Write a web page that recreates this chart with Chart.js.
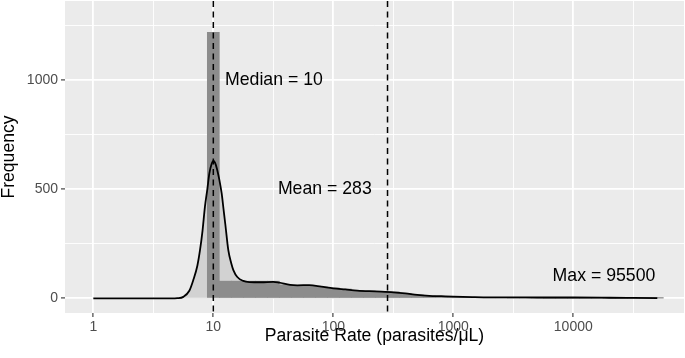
<!DOCTYPE html>
<html>
<head>
<meta charset="utf-8">
<script src="https://cdn.jsdelivr.net/npm/chart.js@4.4.0/dist/chart.umd.min.js"></script>
<style>
  html, body { margin: 0; padding: 0; background: #ffffff; }
  #wrap { width: 685px; height: 358px; }
</style>
</head>
<body>
<div id="wrap"><canvas id="myChart" width="685" height="358"></canvas></div>
<script>
// histogram of log10(parasite rate), bin width 0.1
const binCentersLog = [1.0, 1.1, 1.2, 1.3, 1.4, 1.5, 1.6, 1.7, 1.8, 1.9, 2.0, 2.1, 2.2, 2.3, 2.4, 2.5,
    2.6, 2.7, 2.8, 2.9, 3.0, 3.1, 3.2, 3.3, 3.4, 3.5, 3.6, 3.7, 3.8, 3.9, 4.0, 4.1, 4.2, 4.3, 4.4, 4.5, 4.6, 4.7];
const binCounts = [1220, 79, 79, 79, 79, 79, 62, 60, 58, 53, 48, 43, 36, 34, 32, 30,
    22, 16, 11, 8, 6, 5, 4, 3, 3, 2, 2, 2, 1, 1, 1, 1, 1, 1, 1, 1, 1, 1];

// density curve (scaled to counts)
const densityLog = [0, 0.5, 0.65, 0.7, 0.75, 0.8, 0.833, 0.867, 0.889, 0.91, 0.93, 0.95, 0.967, 0.985, 1.0,
    1.015, 1.03, 1.05, 1.07, 1.085, 1.1, 1.125, 1.15, 1.167, 1.2, 1.25, 1.3, 1.4, 1.5, 1.55, 1.64, 1.7, 1.8,
    1.9, 2.0, 2.1, 2.2, 2.3, 2.4, 2.5, 2.6, 2.7, 2.8, 2.9, 3.0, 3.16, 3.3, 3.5, 3.7, 4.0, 4.3, 4.5, 4.7];
const densityCounts = [0, 0, 0, 1, 7, 35, 84, 150, 221, 310, 420, 500, 573, 615, 631,
    622, 595, 545, 480, 410, 340, 221, 160, 130, 98, 80, 75, 74, 76, 72, 62, 60, 61,
    54, 46, 41, 36, 33, 31, 28, 23, 16, 12, 10, 8, 6, 5, 5, 4, 4, 3, 2, 1];

// axes
const xTickLog = [0, 1, 2, 3, 4];
const xTickLabels = ['1', '10', '100', '1000', '10000'];
const xGridLog = [0, 0.5, 1, 1.5, 2, 2.5, 3, 3.5, 4, 4.5];
const yTickValues = [0, 500, 1000];
const yGridValues = [0, 250, 500, 750, 1000, 1250];

// summary lines and labels
const statNames = ['Median', 'Mean', 'Max'];
const statValues = [10, 283, 95500];
const statLabelX = [32, 85, 18000];   // label anchor, parasites/uL
const statLabelY = [1000, 500, 100];  // label anchor, frequency

const FONT = '"Liberation Sans", Arial, Helvetica, sans-serif';

const bars = binCentersLog.map((v, i) => ({ x: v, y: binCounts[i] }));
const density = densityLog.map((v, i) => ({ x: v, y: densityCounts[i] }));

function isMajor(c, list) {
    return !!(c && c.tick && list.includes(c.tick.value));
}

const panelPlugin = {
    id: 'panel',
    beforeDraw(chart) {
        const { ctx, chartArea: a } = chart;
        ctx.save();
        ctx.fillStyle = '#ebebeb';
        ctx.fillRect(a.left, a.top, a.right - a.left, a.bottom - a.top);
        ctx.restore();
    },
    afterDatasetsDraw(chart) {
        const { ctx, chartArea: a, scales: { x, y } } = chart;
        ctx.save();
        ctx.beginPath();
        ctx.rect(a.left, a.top, a.right - a.left, a.bottom - a.top);
        ctx.clip();
        ctx.strokeStyle = '#000000';
        ctx.lineWidth = 1.5;
        ctx.setLineDash([6, 4.5]);
        statValues.forEach(v => {
            const px = x.getPixelForValue(Math.log10(v));
            if (px > a.right) return;
            ctx.beginPath();
            ctx.moveTo(px, a.top);
            ctx.lineTo(px, a.bottom);
            ctx.stroke();
        });
        ctx.setLineDash([]);
        ctx.fillStyle = '#000000';
        ctx.font = '17.7px ' + FONT;
        ctx.textAlign = 'center';
        ctx.textBaseline = 'middle';
        statNames.forEach((name, i) => {
            const px = x.getPixelForValue(Math.log10(statLabelX[i]));
            const py = y.getPixelForValue(statLabelY[i]);
            ctx.fillText(name + ' = ' + statValues[i], px, py);
        });
        ctx.restore();
    }
};

const ctx = document.getElementById('myChart').getContext('2d');
const myChart = new Chart(ctx, {
    type: 'bar',
    data: {
        datasets: [
            {
                type: 'line',
                data: density,
                borderWidth: 0,
                pointRadius: 0,
                fill: 'origin',
                backgroundColor: 'rgba(190, 190, 190, 0.55)',
                cubicInterpolationMode: 'monotone',
                order: 3
            },
            {
                type: 'bar',
                data: bars,
                backgroundColor: '#8c8c8c',
                borderWidth: 0,
                barPercentage: 1,
                categoryPercentage: 1,
                order: 2
            },
            {
                type: 'line',
                data: density,
                borderColor: '#000000',
                borderWidth: 1.8,
                pointRadius: 0,
                fill: false,
                cubicInterpolationMode: 'monotone',
                order: 1
            }
        ]
    },
    options: {
        responsive: false,
        animation: false,
        devicePixelRatio: 1,
        layout: { padding: { top: 1, right: 1, left: 0, bottom: 0 } },
        plugins: {
            legend: { display: false },
            tooltip: { enabled: false }
        },
        scales: {
            x: {
                type: 'linear',
                offset: false,
                min: -0.236,
                max: 4.9225,
                afterBuildTicks: s => { s.ticks = xGridLog.map(v => ({ value: v })); },
                afterFit: s => { s.height = 45; s.paddingLeft = 0; s.paddingRight = 0; },
                border: { display: false },
                grid: {
                    offset: false,
                    color: '#ffffff',
                    lineWidth: c => isMajor(c, xTickLog) ? 1.8 : 0.9,
                    tickColor: c => isMajor(c, xTickLog) ? '#333333' : 'rgba(0,0,0,0)',
                    tickWidth: 1.1,
                    tickLength: 4
                },
                ticks: {
                    autoSkip: false,
                    maxRotation: 0,
                    padding: 2,
                    color: '#4d4d4d',
                    font: { family: FONT, size: 14 },
                    callback: v => {
                        const i = xTickLog.indexOf(v);
                        return i >= 0 ? xTickLabels[i] : '';
                    }
                },
                title: {
                    display: true,
                    text: 'Parasite Rate (parasites/μL)',
                    color: '#000000',
                    font: { family: FONT, size: 17.6, lineHeight: 1 },
                    padding: { top: 0, bottom: 13 }
                }
            },
            y: {
                type: 'linear',
                min: -67,
                max: 1364,
                afterBuildTicks: s => { s.ticks = yGridValues.map(v => ({ value: v })); },
                afterFit: s => { s.width = 65; s.paddingTop = 0; s.paddingBottom = 0; },
                border: { display: false },
                grid: {
                    color: '#ffffff',
                    lineWidth: c => isMajor(c, yTickValues) ? 1.8 : 0.9,
                    tickColor: c => isMajor(c, yTickValues) ? '#333333' : 'rgba(0,0,0,0)',
                    tickWidth: 1.1,
                    tickLength: 4
                },
                ticks: {
                    autoSkip: false,
                    padding: 3,
                    color: '#4d4d4d',
                    font: { family: FONT, size: 14 },
                    callback: v => yTickValues.includes(v) ? String(v) : ''
                },
                title: {
                    display: true,
                    text: 'Frequency',
                    color: '#000000',
                    font: { family: FONT, size: 17.6, lineHeight: 1 },
                    padding: { top: 0.5, bottom: 0 }
                }
            }
        }
    },
    plugins: [panelPlugin]
});
</script>
</body>
</html>
